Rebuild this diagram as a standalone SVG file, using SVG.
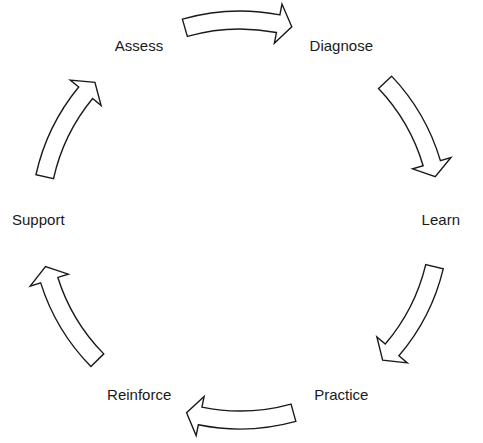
<svg xmlns="http://www.w3.org/2000/svg" width="483" height="443" viewBox="0 0 483 443">
<style>
.lbl{font-family:"Liberation Sans",Arial,sans-serif;font-size:15px;fill:#1a1a1a;text-anchor:middle}
.arr{fill:#ffffff;stroke:#1a1a1a;stroke-width:1.4;stroke-linejoin:miter}
</style>
<defs>
<path id="carrow" d="M441.40,164.15 A209,209 0 0 1 444.80,261.67 L455.58,263.86 L432.73,273.45 L416.39,255.89 L427.16,258.08 A191,191 0 0 0 424.05,168.96 Z"/>
</defs>
<rect width="483" height="443" fill="#ffffff"/>
<g id="connectors">
<use href="#carrow" class="arr" transform="rotate(-90.5 240 220)"/>
<use href="#carrow" class="arr" transform="rotate(-28 240 220)"/>
<use href="#carrow" class="arr" transform="rotate(29 240 220)"/>
<use href="#carrow" class="arr" transform="rotate(90 240 220)"/>
<use href="#carrow" class="arr" transform="rotate(151 240 220)"/>
<use href="#carrow" class="arr" transform="rotate(208 240 220)"/>
</g>
<g id="node-assess"><text class="lbl" x="139" y="50.7">Assess</text></g>
<g id="node-diagnose"><text class="lbl" x="341.3" y="50.7">Diagnose</text></g>
<g id="node-learn"><text class="lbl" x="440.8" y="224.8">Learn</text></g>
<g id="node-practice"><text class="lbl" x="341.3" y="400">Practice</text></g>
<g id="node-reinforce"><text class="lbl" x="139.2" y="400">Reinforce</text></g>
<g id="node-support"><text class="lbl" x="38.3" y="224.8">Support</text></g>
</svg>
